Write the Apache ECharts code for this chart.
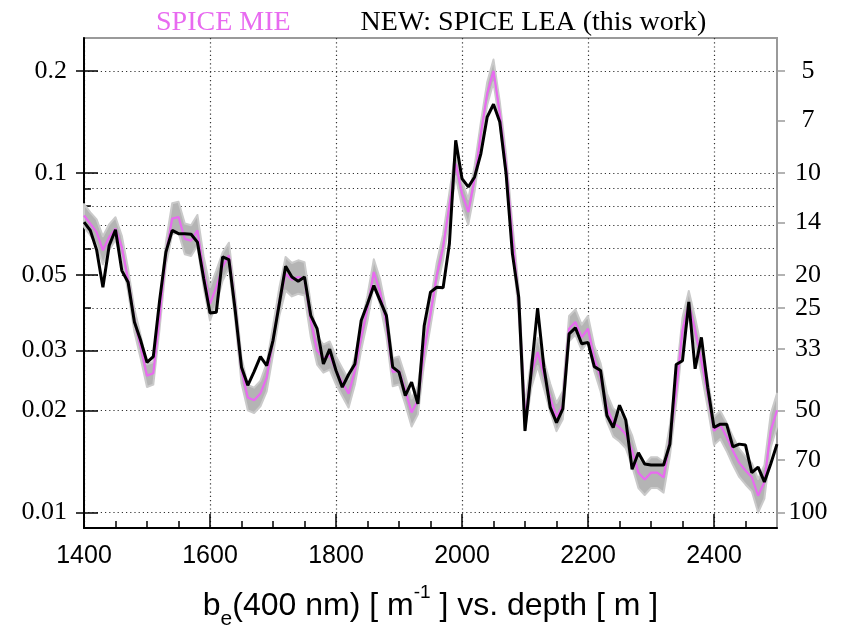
<!DOCTYPE html>
<html><head><meta charset="utf-8">
<script src="https://cdn.jsdelivr.net/npm/echarts@6/dist/echarts.min.js"></script>
<style>html,body{margin:0;padding:0;background:#fff}#c{width:845px;height:627px}</style>
</head><body><div id="c"></div>
<script>
// depth [m]
const depths = [1400,1410,1420,1430,1440,1450,1460,1470,1480,1490,
1500,1510,1520,1530,1540,1550,1560,1570,1580,1590,
1600,1610,1620,1630,1640,1650,1660,1670,1680,1690,
1700,1710,1720,1730,1740,1750,1760,1770,1780,1790,
1800,1810,1820,1830,1840,1850,1860,1870,1880,1890,
1900,1910,1920,1930,1940,1950,1960,1970,1980,1990,
2000,2010,2020,2030,2040,2050,2060,2070,2080,2090,
2100,2110,2120,2130,2140,2150,2160,2170,2180,2190,
2200,2210,2220,2230,2240,2250,2260,2270,2280,2290,
2300,2310,2320,2330,2340,2350,2360,2370,2380,2390,
2400,2410,2420,2430,2440,2450,2460,2470,2480,2490,2500];

// SPICE MIE b_e(400) [1/m]
const mie = [0.0750,0.0709,0.0670,0.0592,0.0648,0.0686,0.0605,0.0483,0.0368,0.0307,
0.0253,0.0257,0.0376,0.0579,0.0734,0.0742,0.0640,0.0632,0.0678,0.0510,
0.0412,0.0461,0.0530,0.0572,0.0402,0.0262,0.0218,0.0214,0.0224,0.0250,
0.0321,0.0417,0.0505,0.0485,0.0494,0.0488,0.0368,0.0300,0.0284,0.0290,
0.0262,0.0242,0.0224,0.0262,0.0328,0.0400,0.0511,0.0446,0.0360,0.0259,
0.0262,0.0229,0.0197,0.0214,0.0300,0.0385,0.0500,0.0605,0.0803,0.1066,
0.0870,0.0768,0.0963,0.1307,0.1715,0.2000,0.1500,0.1050,0.0650,0.0420,
0.0190,0.0256,0.0297,0.0255,0.0218,0.0191,0.0207,0.0348,0.0364,0.0328,
0.0348,0.0284,0.0250,0.0204,0.0184,0.0178,0.0170,0.0152,0.0131,0.0125,
0.0131,0.0131,0.0127,0.0163,0.0229,0.0344,0.0412,0.0344,0.0280,0.0224,
0.0174,0.0181,0.0167,0.0152,0.0140,0.0133,0.0127,0.0112,0.0123,0.0174,0.0200];

// NEW: SPICE LEA b_e(400) [1/m]
const lea = [0.0717,0.0678,0.0594,0.0461,0.0612,0.0681,0.0516,0.0477,0.0364,0.0321,
0.0277,0.0288,0.0421,0.0585,0.0678,0.0663,0.0663,0.0660,0.0626,0.0488,
0.0387,0.0389,0.0566,0.0556,0.0394,0.0268,0.0237,0.0260,0.0288,0.0271,
0.0321,0.0412,0.0531,0.0494,0.0480,0.0494,0.0380,0.0348,0.0274,0.0303,
0.0262,0.0234,0.0255,0.0274,0.0368,0.0412,0.0466,0.0421,0.0380,0.0268,
0.0259,0.0221,0.0242,0.0209,0.0355,0.0446,0.0461,0.0459,0.0619,0.1249,
0.0963,0.0910,0.0974,0.1141,0.1463,0.1595,0.1415,0.0996,0.0579,0.0431,
0.0174,0.0262,0.0400,0.0268,0.0204,0.0184,0.0202,0.0336,0.0350,0.0314,
0.0317,0.0269,0.0262,0.0193,0.0178,0.0207,0.0187,0.0134,0.0150,0.0139,
0.0138,0.0138,0.0138,0.0159,0.0273,0.0280,0.0417,0.0265,0.0328,0.0234,
0.0178,0.0182,0.0182,0.0156,0.0159,0.0158,0.0131,0.0136,0.0123,0.0139,0.0159];

// relative half-width of the grey uncertainty band around SPICE MIE
const bandRel = [0.08,0.08,0.09,0.10,0.09,0.08,0.08,0.08,0.08,0.08,
0.08,0.08,0.08,0.08,0.11,0.11,0.11,0.11,0.11,0.11,
0.12,0.12,0.10,0.09,0.09,0.09,0.09,0.09,0.09,0.10,
0.10,0.10,0.12,0.12,0.12,0.12,0.12,0.10,0.10,0.10,
0.10,0.10,0.10,0.10,0.09,0.09,0.09,0.09,0.09,0.10,
0.10,0.10,0.10,0.10,0.09,0.09,0.09,0.09,0.09,0.09,
0.09,0.09,0.09,0.08,0.08,0.08,0.08,0.08,0.09,0.09,
0.09,0.10,0.10,0.10,0.10,0.10,0.10,0.09,0.09,0.09,
0.09,0.09,0.10,0.10,0.10,0.10,0.10,0.11,0.11,0.11,
0.11,0.11,0.11,0.11,0.09,0.09,0.09,0.09,0.09,0.10,
0.10,0.10,0.10,0.10,0.10,0.10,0.10,0.12,0.12,0.12,0.12];

const xLabelTicks = [1400,1600,1800,2000,2200,2400];
const xMinorTicks = [1450,1500,1550,1650,1700,1750,1850,1900,1950,2050,2100,2150,2250,2300,2350,2450];
const yMajorTicks = [0.01,0.02,0.03,0.05,0.1,0.2];
const yMajorLabels = ['0.01','0.02','0.03','0.05','0.1','0.2'];
const yMinorTicks = [0.04,0.06,0.07,0.08,0.09];
const yGridValues = [0.01,0.02,0.03,0.04,0.05,0.06,0.07,0.08,0.09,0.1,0.2];
const rightLabels = [5,7,10,14,20,25,33,50,70,100];

const MIE_COLOR = '#e86af0';
const bandHigh = mie.map((v,i)=>v*(1+bandRel[i]));
const bandLow = mie.map((v,i)=>v/(1+bandRel[i]));

const YMIN = 0.009, YMAX = 0.25;
function yBase(extra){
  return Object.assign({type:'log', logBase:10, min:YMIN, max:YMAX, position:'left',
    axisLine:{show:false}, axisLabel:{show:false}, axisTick:{show:false}, splitLine:{show:false}}, extra);
}
function xBase(extra){
  return Object.assign({type:'value', min:1400, max:2500, position:'bottom',
    axisLine:{show:false, onZero:false}, axisLabel:{show:false}, axisTick:{show:false}, splitLine:{show:false}}, extra);
}

const chart = echarts.init(document.getElementById('c'), null, {renderer:'canvas'});
chart.setOption({
  animation:false,
  backgroundColor:'#fff',
  grid:{left:84, right:68, top:38, bottom:99, containLabel:false, outerBoundsMode:'none',
    show:true, borderColor:'#9a9a9a', borderWidth:2, backgroundColor:'transparent'},
  legend:{
    left:146, top:4, icon:'none', itemWidth:0, itemHeight:14, itemGap:65,
    selectedMode:false,
    textStyle:{fontFamily:'Liberation Serif', fontSize:28, color:'#000', padding:0},
    data:[
      {name:'SPICE MIE', textStyle:{color:MIE_COLOR}},
      {name:'NEW: SPICE LEA (this work)', textStyle:{color:'#000'}}
    ]
  },
  xAxis:[
    xBase({
      axisLine:{show:true, onZero:false, lineStyle:{color:'#000', width:2}},
      axisLabel:{show:true, customValues:xLabelTicks, margin:16, color:'#000', fontFamily:'Liberation Sans', fontSize:25,
        formatter:function(v){return String(Math.round(v));}},
      axisTick:{show:true, inside:true, length:14, customValues:xLabelTicks, lineStyle:{color:'#000', width:1.5}},
      splitLine:{show:true, lineStyle:{color:'#333', width:1.2, type:[1.2,3]}},
      name:'{t|b}{sub|e}{t|(400 nm) [ m}{sup|-1}{t| ] vs. depth [ m ]}',
      nameLocation:'middle', nameGap:58,
      nameTextStyle:{color:'#000', rich:{
        t:{fontFamily:'Liberation Sans', fontSize:32, lineHeight:40, verticalAlign:'middle', color:'#000'},
        sub:{fontFamily:'Liberation Sans', fontSize:21, lineHeight:21, verticalAlign:'bottom', color:'#000', padding:[0,0,-4,0]},
        sup:{fontFamily:'Liberation Sans', fontSize:19, lineHeight:19, verticalAlign:'top', color:'#000', padding:[-3,0,0,0]}
      }}
    }),
    xBase({
      axisTick:{show:true, inside:true, length:7, customValues:xMinorTicks, lineStyle:{color:'#000', width:1.5}}
    })
  ],
  yAxis:[
    yBase({
      axisLine:{show:true, onZero:false, lineStyle:{color:'#000', width:2}},
      axisLabel:{show:true, customValues:yMajorTicks, margin:17, color:'#000', fontFamily:'Liberation Serif', fontSize:26,
        formatter:function(v){let b=0;for(let i=1;i<yMajorTicks.length;i++){if(Math.abs(Math.log(yMajorTicks[i]/v))<Math.abs(Math.log(yMajorTicks[b]/v)))b=i;}return yMajorLabels[b];}},
      axisTick:{show:true, inside:false, length:8, customValues:yMajorTicks, lineStyle:{color:'#000', width:1.5}}
    }),
    yBase({
      axisTick:{show:true, inside:true, length:14, customValues:yMajorTicks, lineStyle:{color:'#000', width:1.5}}
    }),
    yBase({
      axisTick:{show:true, inside:true, length:7, customValues:yMinorTicks, lineStyle:{color:'#000', width:1.5}}
    }),
    yBase({
      axisTick:{show:false, customValues:yGridValues},
      splitLine:{show:true, lineStyle:{color:'#333', width:1.2, type:[1.2,3]}}
    }),
    yBase({
      position:'right',
      axisLabel:{show:true, customValues:rightLabels.map(n=>1/n), margin:31, align:'center', color:'#000', fontFamily:'Liberation Serif', fontSize:26,
        formatter:function(v){return String(Math.round(1/v));}},
      axisTick:{show:true, inside:false, length:8, customValues:rightLabels.map(n=>1/n), lineStyle:{color:'#9a9a9a', width:1.5}}
    })
  ],
  series:[
    {
      name:'band', type:'custom', xAxisIndex:0, yAxisIndex:0, silent:true,
      data:[[depths[0], mie[0]]],
      renderItem:function(params, api){
        const pts=[];
        for(let i=0;i<depths.length;i++) pts.push(api.coord([depths[i], bandHigh[i]]));
        for(let i=depths.length-1;i>=0;i--) pts.push(api.coord([depths[i], bandLow[i]]));
        return {type:'polygon', shape:{points:pts}, style:{fill:'#b4b4b4', stroke:'#cacaca', lineWidth:2, lineJoin:'round'}};
      }
    },
    {
      name:'SPICE MIE', type:'line', xAxisIndex:0, yAxisIndex:0, showSymbol:false, silent:true,
      data:depths.map((d,i)=>[d, mie[i]]),
      lineStyle:{color:MIE_COLOR, width:2.2}, itemStyle:{color:MIE_COLOR}
    },
    {
      name:'NEW: SPICE LEA (this work)', type:'line', xAxisIndex:0, yAxisIndex:0, showSymbol:false, silent:true,
      data:depths.map((d,i)=>[d, lea[i]]),
      lineStyle:{color:'#000', width:3}, itemStyle:{color:'#000'}
    }
  ]
});
</script>
</body></html>
